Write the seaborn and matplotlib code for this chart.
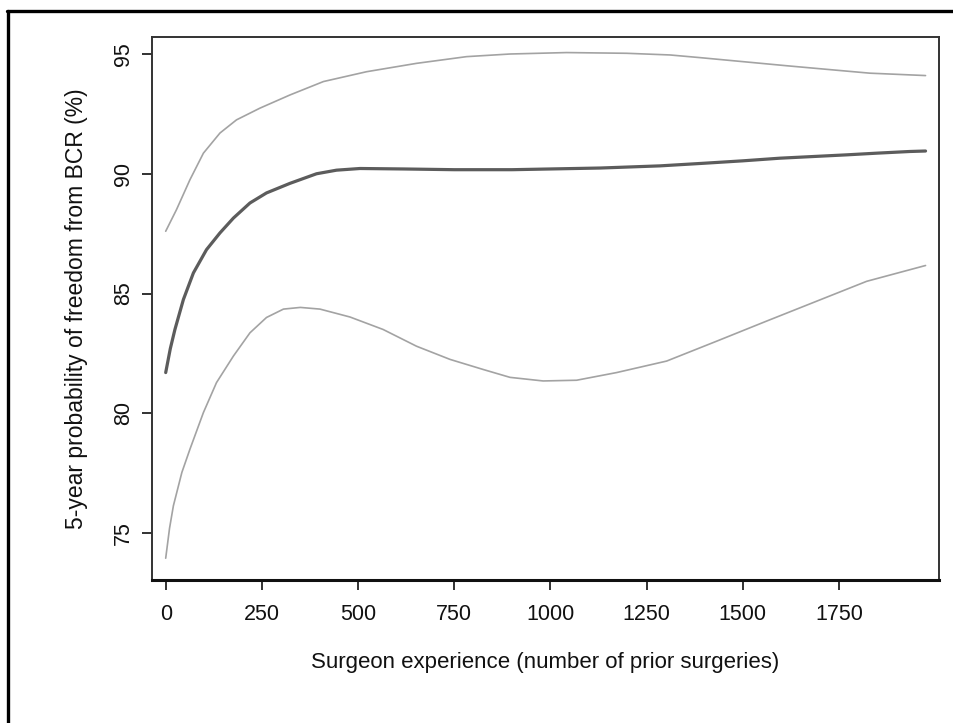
import matplotlib
matplotlib.use("Agg")
import matplotlib.pyplot as plt
from matplotlib.lines import Line2D
import seaborn as sns

# ---- data ----
mid_x = [0, 12, 24, 46, 72, 106, 141, 176, 219, 262, 323, 392, 444, 505, 620, 750,
         900, 1130, 1285, 1400, 1500, 1596, 1683, 1770, 1848, 1934, 1975]
mid_y = [81.7, 82.7, 83.5, 84.75, 85.86, 86.83, 87.53, 88.15, 88.78, 89.2, 89.6,
         90.0, 90.15, 90.22, 90.2, 90.17, 90.17, 90.24, 90.33, 90.44, 90.54,
         90.65, 90.72, 90.79, 90.86, 90.93, 90.95]

upper_x = [0, 28, 63, 98, 141, 184, 245, 323, 410, 522, 652, 782, 895, 1042,
           1198, 1311, 1388, 1501, 1614, 1718, 1830, 1975]
upper_y = [87.6, 88.5, 89.75, 90.86, 91.7, 92.25, 92.74, 93.29, 93.85, 94.26,
           94.61, 94.89, 95.0, 95.06, 95.03, 94.96, 94.85, 94.68, 94.51, 94.36,
           94.2, 94.1]

lower_x = [0, 10, 20, 42, 63, 98, 132, 176, 219, 262, 306, 350, 401, 479, 565, 652,
           739, 825, 895, 981, 1068, 1172, 1302, 1432, 1562, 1692, 1822, 1975]
lower_y = [73.95, 75.2, 76.14, 77.53, 78.5, 80.03, 81.28, 82.39, 83.36, 84.0,
           84.35, 84.42, 84.35, 84.02, 83.5, 82.8, 82.25, 81.83, 81.5, 81.35,
           81.38, 81.7, 82.18, 83.01, 83.85, 84.68, 85.51, 86.17]

x_ticks = [0, 250, 500, 750, 1000, 1250, 1500, 1750]
y_ticks = [75, 80, 85, 90, 95]
x_label = "Surgeon experience (number of prior surgeries)"
y_label = "5-year probability of freedom from BCR (%)"

# ---- styling ----
sns.set_style("ticks")
plt.rcParams["font.family"] = ["Liberation Sans", "DejaVu Sans"]

fig = plt.figure(figsize=(9.54, 7.23), dpi=100, facecolor="white")
ax = fig.add_axes([152 / 954, 1 - 580 / 723, (939 - 152) / 954, (580 - 37) / 723])

light = "#a3a3a3"
dark = "#5c5c5c"

sns.lineplot(x=upper_x, y=upper_y, ax=ax, color=light, linewidth=1.2, sort=False)
sns.lineplot(x=lower_x, y=lower_y, ax=ax, color=light, linewidth=1.2, sort=False)
sns.lineplot(x=mid_x, y=mid_y, ax=ax, color=dark, linewidth=2.3, sort=False)

ax.set_xlim(-35.6, 2010)
ax.set_ylim(73.04, 95.71)
ax.set_xticks(x_ticks)
ax.set_yticks(y_ticks)
ax.set_xticklabels([str(t) for t in x_ticks])
ax.set_yticklabels([str(t) for t in y_ticks], rotation=90, va="center")

ax.tick_params(axis="both", direction="out", length=7, width=1.3, color="#222222",
               labelsize=15.5, labelcolor="#111111")
ax.tick_params(axis="x", pad=10)
ax.tick_params(axis="y", pad=6)

ax.set_xlabel(x_label, fontsize=16, color="#111111", labelpad=20)
ax.set_ylabel(y_label, fontsize=16.5, color="#111111", labelpad=18)

for side in ["top", "right", "left"]:
    ax.spines[side].set_linewidth(1.4)
    ax.spines[side].set_color("#333333")
ax.spines["bottom"].set_linewidth(2.2)
ax.spines["bottom"].set_color("#111111")

# outer frame (left and top only)
fig.add_artist(Line2D([8.5 / 954, 8.5 / 954], [0, 1 - 10.5 / 723],
                      transform=fig.transFigure, color="black", linewidth=2.4))
fig.add_artist(Line2D([7.5 / 954, 1], [1 - 10.5 / 723, 1 - 10.5 / 723],
                      transform=fig.transFigure, color="black", linewidth=2.4))

fig.savefig("out.png", dpi=100, facecolor="white")
